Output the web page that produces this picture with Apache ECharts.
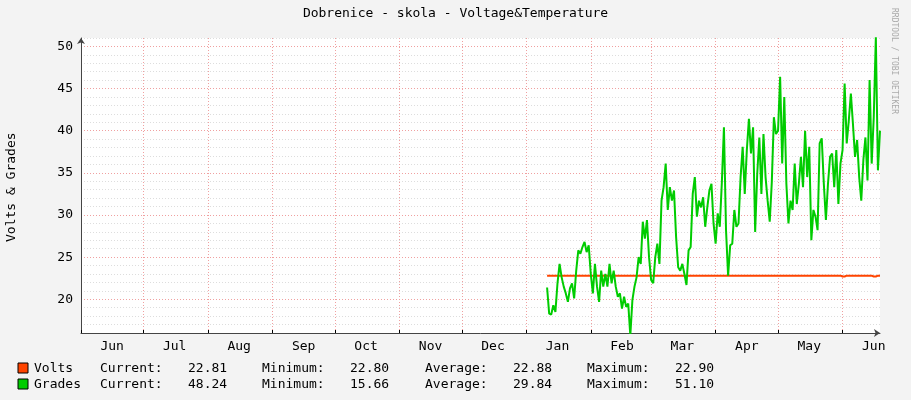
<!DOCTYPE html>
<html><head><meta charset="utf-8">
<script src="https://cdn.jsdelivr.net/npm/echarts@6/dist/echarts.min.js"></script>
<style>html,body{margin:0;padding:0;background:#f3f3f3}#c{width:911px;height:400px}</style>
</head><body><div id="c"></div>
<script>
const axisStart = '2023-06-01';
const axisEnd = '2024-06-19';
const dataStart = '2024-01-11';
const monthNames = ['Jan','Feb','Mar','Apr','May','Jun','Jul','Aug','Sep','Oct','Nov','Dec'];
const grades = [21.4,18.3,18.2,19.3,18.5,21.9,24.2,22.6,21.5,20.7,19.7,21.3,21.9,20.1,23.4,25.8,25.4,26.2,26.8,25.6,26.4,
23.0,20.7,24.2,21.5,19.7,23.4,21.5,23.0,21.5,24.2,21.9,23.4,21.5,20.3,20.7,18.9,20.3,19.1,19.5,15.7,19.9,21.5,22.6,25.0,24.2,29.2,27.2,29.4,25.0,
22.3,21.9,25.0,26.6,24.2,31.7,33.3,36.1,30.6,33.3,31.7,32.9,27.4,23.8,23.4,24.2,23.0,21.7,25.8,26.2,32.5,34.5,29.8,31.7,30.9,32.1,28.6,30.9,32.9,33.7,29.0,
26.6,30.2,28.6,33.9,40.4,28.2,22.8,26.4,26.6,30.6,28.6,29.0,34.5,38.1,32.5,37.7,41.4,37.3,40.4,28.0,34.9,39.2,32.5,39.6,34.5,31.7,29.2,33.9,41.6,39.6,
40.0,46.4,36.1,44.0,33.7,29.0,31.7,30.6,36.1,31.3,33.7,36.9,33.3,40.0,34.5,38.1,27.0,30.6,29.8,28.2,38.5,39.1,33.7,29.4,33.7,36.9,37.3,33.3,37.7,31.3,36.1,
37.7,45.6,38.5,41.2,44.4,40.8,36.9,38.9,34.5,31.7,36.5,39.2,34.1,46.0,36.1,41.6,51.1,35.3,40.0];
const volts = [22.8,22.8,22.8,22.8,22.8,22.8,22.8,22.8,22.8,22.8,22.8,22.8,22.8,22.8,22.8,22.8,22.8,22.8,22.8,22.8,22.8,
22.8,22.8,22.8,22.8,22.8,22.8,22.8,22.8,22.8,22.8,22.8,22.8,22.8,22.8,22.8,22.8,22.8,22.8,22.8,22.8,22.8,22.8,22.8,22.8,22.8,22.8,22.8,22.8,22.8,
22.8,22.8,22.8,22.8,22.8,22.8,22.8,22.8,22.8,22.8,22.8,22.8,22.8,22.8,22.8,22.8,22.8,22.8,22.8,22.8,22.8,22.8,22.8,22.8,22.8,22.8,22.8,22.8,22.8,22.8,22.8,
22.8,22.8,22.8,22.8,22.8,22.8,22.8,22.8,22.8,22.8,22.8,22.8,22.8,22.8,22.8,22.8,22.8,22.8,22.8,22.8,22.8,22.8,22.8,22.8,22.8,22.8,22.8,22.8,22.8,22.8,
22.8,22.8,22.8,22.8,22.8,22.8,22.8,22.8,22.8,22.8,22.8,22.8,22.8,22.8,22.8,22.8,22.8,22.8,22.8,22.8,22.8,22.8,22.8,22.8,22.8,22.8,22.8,22.8,22.8,22.8,22.8,
22.7,22.7,22.8,22.8,22.8,22.8,22.8,22.8,22.8,22.8,22.8,22.8,22.8,22.8,22.8,22.7,22.7,22.8,22.8];
const legendRows = [
  {name:'Volts', color:'#ff4400', cur:'22.81', min:'22.80', avg:'22.88', max:'22.90'},
  {name:'Grades', color:'#00cc00', cur:'48.24', min:'15.66', avg:'29.84', max:'51.10'}
];

function fmt(d){return d.toISOString().slice(0,10);}
const days=[];
for(let d=new Date(axisStart+'T00:00:00Z'); fmt(d)<=axisEnd; d.setUTCDate(d.getUTCDate()+1)) days.push(fmt(d));
const off = days.indexOf(dataStart);
const gData = days.map((d,i)=> (i>=off && i-off<grades.length) ? grades[i-off] : null);
const vData = days.map((d,i)=> (i>=off && i-off<volts.length) ? volts[i-off] : null);

const mono = 'DejaVu Sans Mono';
const graphic = [
  {type:'text', left:'center', top:7, style:{text:'Dobrenice - skola - Voltage&Temperature', font:'13px "DejaVu Sans Mono"', fill:'#000'}},
  {type:'text', x:5, y:242, rotation:Math.PI/2, style:{text:'Volts & Grades', font:'13px "DejaVu Sans Mono"', fill:'#000', textAlign:'left', textVerticalAlign:'top'}},
  {type:'text', x:898, y:8, rotation:-Math.PI/2, style:{text:'RRDTOOL / TOBI OETIKER', font:'8px "DejaVu Sans Mono"', fill:'#aaa', textVerticalAlign:'top'}}
];
legendRows.forEach((r,k)=>{
  const y = 362 + k*16;
  graphic.push({type:'rect', shape:{x:18,y:y+1,width:10,height:10}, style:{fill:r.color, stroke:'#000', lineWidth:1}});
  const cols = [[34,r.name],[100,'Current:'],[188,r.cur],[262,'Minimum:'],[350,r.min],[425,'Average:'],[513,r.avg],[587,'Maximum:'],[675,r.max]];
  cols.forEach(c=>graphic.push({type:'text', x:c[0], y:y, style:{text:c[1], font:'13px "DejaVu Sans Mono"', fill:'#000'}}));
});

const chart = echarts.init(document.getElementById('c'));
chart.setOption({
  backgroundColor:'#f3f3f3',
  animation:false,
  grid:{left:81, right:31, top:38, bottom:67, show:true, backgroundColor:'#fff', borderWidth:0},
  xAxis:{type:'category', data:days, boundaryGap:false,
    axisLine:{lineStyle:{color:'#444'}, symbol:['none','arrow'], symbolSize:[6,6]},
    axisTick:{show:true, length:-3, interval:(i,v)=>v.endsWith('-01'), lineStyle:{color:'#000'}},
    axisLabel:{interval:(i,v)=>v.endsWith('-16'), formatter:v=>monthNames[+v.slice(5,7)-1], fontFamily:mono, fontSize:13, color:'#000', margin:7},
    splitLine:{show:true, interval:(i,v)=>v.endsWith('-01'), lineStyle:{color:'#f0a0a0', type:[1,2]}}
  },
  yAxis:{type:'value', min:16, max:51, interval:1,
    axisLine:{show:true, lineStyle:{color:'#444'}, symbol:['none','arrow'], symbolSize:[6,6]},
    axisTick:{show:false},
    axisLabel:{formatter:v=> v%5===0 ? String(v) : '', fontFamily:mono, fontSize:13, color:'#000', margin:8},
    splitLine:{show:true, lineStyle:{color:['#dddddd','#dddddd','#dddddd','#dddddd','#f0a0a0'], type:[1,2]}}
  },
  series:[
    {name:'Volts', type:'line', data:vData, showSymbol:false, connectNulls:false, lineStyle:{color:'#ff4400', width:2}, itemStyle:{color:'#ff4400'}},
    {name:'Grades', type:'line', data:gData, showSymbol:false, connectNulls:false, lineStyle:{color:'#00cc00', width:2}, itemStyle:{color:'#00cc00'}}
  ],
  graphic:graphic
});
</script></body></html>
